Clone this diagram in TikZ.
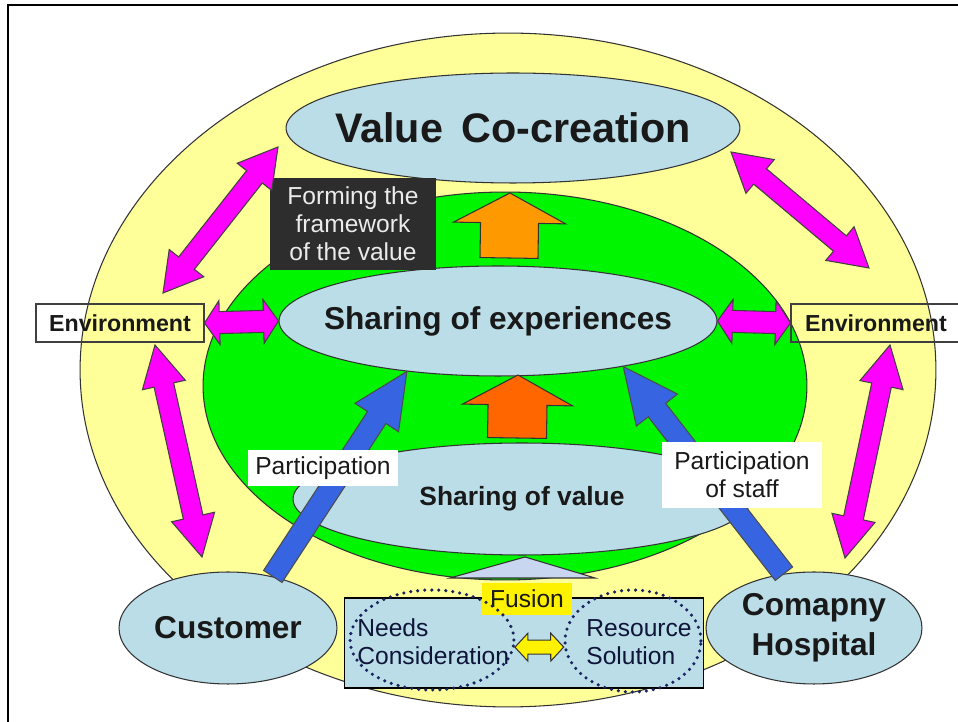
\documentclass[tikz,border=0pt]{standalone}
\usepackage{fontspec}
\setmainfont{Liberation Sans}
\usetikzlibrary{calc,shapes.geometric}

\definecolor{ringyellow}{RGB}{255,255,153}
\definecolor{ringgreen}{RGB}{0,245,0}
\definecolor{bubble}{RGB}{186,221,232}
\definecolor{arrmag}{RGB}{255,0,255}
\definecolor{arrblue}{RGB}{55,100,225}
\definecolor{arrorange}{RGB}{255,153,0}
\definecolor{arrred}{RGB}{255,102,0}
\definecolor{tipblue}{RGB}{200,214,240}
\definecolor{darkbox}{RGB}{45,45,45}
\definecolor{dotnavy}{RGB}{25,35,95}

% fat arrow with two heads: #1 style, #2 #3 ends, #4 head length, #5 head half width, #6 shaft half width
\newcommand{\fatboth}[6]{%
  \draw[#1] (#2) -- ($(#2)!#4!(#3)!#5!90:(#3)$) -- ($(#2)!#4!(#3)!#6!90:(#3)$)
    -- ($(#3)!#4!(#2)!#6!-90:(#2)$) -- ($(#3)!#4!(#2)!#5!-90:(#2)$) -- (#3)
    -- ($(#3)!#4!(#2)!#5!90:(#2)$) -- ($(#3)!#4!(#2)!#6!90:(#2)$)
    -- ($(#2)!#4!(#3)!#6!-90:(#3)$) -- ($(#2)!#4!(#3)!#5!-90:(#3)$) -- cycle;}
% fat arrow with one head: #2 tail, #3 tip
\newcommand{\fatone}[6]{%
  \draw[#1] ($(#2)!#6!90:(#3)$) -- ($(#3)!#4!(#2)!#6!-90:(#2)$) -- ($(#3)!#4!(#2)!#5!-90:(#2)$)
    -- (#3) -- ($(#3)!#4!(#2)!#5!90:(#2)$) -- ($(#3)!#4!(#2)!#6!90:(#2)$)
    -- ($(#2)!#6!-90:(#3)$) -- cycle;}

\begin{document}
\begin{tikzpicture}[x=0.02cm, y=-0.02cm, line join=miter, text=black!90,
  ring/.style={ellipse, draw=black!80, line width=0.6pt, inner sep=0pt},
  bubble/.style={ring, fill=bubble},
  dotring/.style={ellipse, draw=dotnavy, line width=2pt, dash pattern=on 0pt off 4pt, line cap=round, inner sep=0pt},
  mag/.style={fill=arrmag, draw=black!75, line width=0.6pt},
  tag/.style={fill=white, align=center, inner sep=0pt, font=\fontsize{14}{15.9}\selectfont},
  envbox/.style={draw=black!75, line width=0.6pt, minimum height=0.76cm, inner sep=0pt, font=\fontsize{13.2}{16}\selectfont\bfseries},
  big/.style={font=\fontsize{18}{22.7}\selectfont\bfseries}]
  \useasboundingbox (0,0) rectangle (958,722);
  \draw[line width=1.2pt] (8,725) -- (8,5) -- (961,5);

  % rings
  \node[ring, fill=ringyellow, minimum width=17.12cm, minimum height=13.48cm] (outer) at (508,370) {};
  \node[ring, fill=ringgreen, minimum width=12.08cm, minimum height=7.76cm] (inner) at (505,386) {};

  % the three stages
  \node[bubble, minimum width=9.08cm, minimum height=2.2cm] (vcc) at (513,128) {};
  \node[font=\fontsize{23.5}{28}\selectfont\bfseries] (vcc-t) at (vcc) {Value\ \,Co-creation};
  \node[bubble, minimum width=8.76cm, minimum height=2.2cm] (soe) at (498,321) {};
  \node[big] (soe-t) at (soe) {Sharing of experiences};
  \node[bubble, minimum width=9.16cm, minimum height=2.24cm, font=\fontsize{15}{18}\selectfont\bfseries] (sov) at (522,499) {Sharing of value};
  \draw[fill=tipblue, draw=black!80, line width=0.6pt] (450,578) -- (525,557) -- (595,578) -- cycle;

  % upward steps
  \coordinate (up1-s) at (509,258);
  \coordinate (up1-e) at (510,193);
  \coordinate (up2-s) at (517,438);
  \coordinate (up2-e) at (518,375);
  \fatone{fill=arrorange, draw=black!80, line width=0.6pt}{up1-s}{up1-e}{0.6cm}{1.12cm}{0.58cm}
  \fatone{fill=arrred, draw=black!80, line width=0.6pt}{up2-s}{up2-e}{0.6cm}{1.1cm}{0.59cm}

  \node[fill=darkbox, text=black!8, minimum width=3.34cm, minimum height=1.86cm, inner sep=0pt,
        align=center, font=\fontsize{14}{15.9}\selectfont] (frm) at (353,224) {Forming the\\framework\\of the value};

  % actors
  \node[bubble, big, minimum width=4.36cm, minimum height=2.24cm] (cust) at (228,628) {Customer};
  \node[bubble, big, align=center, minimum width=4.32cm, minimum height=2.24cm] (comp) at (814,628) {Comapny\\Hospital};

  \fatone{fill=arrblue, draw=black!70, line width=0.6pt}{cust.49}{soe.209}{1.1cm}{0.52cm}{0.22cm}
  \fatone{fill=arrblue, draw=black!70, line width=0.6pt}{comp.119}{soe.340}{1.1cm}{0.52cm}{0.22cm}
  \node[tag, minimum width=3cm, minimum height=0.72cm] (part) at (323,468) {Participation};
  \node[tag, minimum width=3.2cm, minimum height=1.34cm] (staff) at (742,475) {Participation\\of staff};

  % environment links
  \node[envbox, minimum width=3.36cm] (envL) at (120,323) {Environment};
  \node[envbox, minimum width=3.4cm] (envR) at (876,323) {Environment};
  \coordinate (tl-a) at (163,293);
  \coordinate (tl-b) at (278,147);
  \coordinate (tr-a) at (731,152);
  \coordinate (tr-b) at (869,268);
  \coordinate (vl-a) at (155,345);
  \coordinate (vl-b) at (202,557);
  \coordinate (vr-a) at (890,345);
  \coordinate (vr-b) at (845,558);
  \fatboth{mag}{tl-a}{tl-b}{0.76cm}{0.44cm}{0.2cm}
  \fatboth{mag}{tr-a}{tr-b}{0.76cm}{0.44cm}{0.2cm}
  \fatboth{mag}{vl-a}{vl-b}{0.82cm}{0.44cm}{0.2cm}
  \fatboth{mag}{vr-a}{vr-b}{0.82cm}{0.44cm}{0.2cm}
  \fatboth{mag}{envL.east}{soe.west}{0.3cm}{0.44cm}{0.22cm}
  \fatboth{mag}{soe.east}{envR.west}{0.3cm}{0.44cm}{0.22cm}

  % needs and resources
  \node[draw=black, line width=0.6pt, fill=bubble, minimum width=7.18cm, minimum height=1.8cm] (pair) at (524,643) {};
  \node[fill=yellow, minimum width=1.8cm, minimum height=0.64cm, inner sep=0pt, font=\fontsize{14}{16}\selectfont] (fus) at (527,599) {Fusion};
  \node[dotring, minimum width=3.28cm, minimum height=2cm] (needs) at (432,640) {};
  \node[dotring, minimum width=2.72cm, minimum height=2.04cm] (res) at (633,641) {};
  \node[anchor=west, align=left, inner sep=0pt, text=dotnavy!60!black, font=\fontsize{14}{15.9}\selectfont] (needs-t) at (357,642) {Needs\\Consideration};
  \node[anchor=west, align=left, inner sep=0pt, text=dotnavy!60!black, font=\fontsize{14}{15.9}\selectfont] (res-t) at (586,642) {Resource\\Solution};
  \fatboth{fill=yellow, draw=black!80, line width=0.6pt}{needs.355}{res.185}{0.26cm}{0.28cm}{0.14cm}
\end{tikzpicture}
\end{document}
